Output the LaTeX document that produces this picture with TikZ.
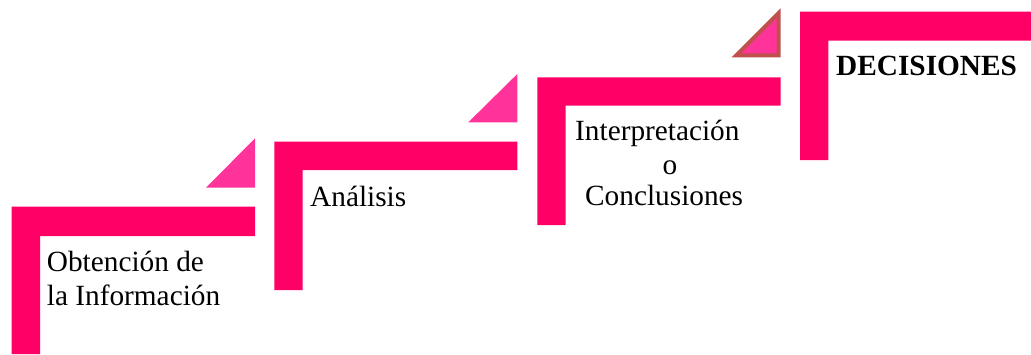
\documentclass[tikz,border=0pt]{standalone}
\usepackage{fontspec}
\setmainfont{Liberation Serif}
\definecolor{barpink}{RGB}{255,0,102}
\definecolor{tripink}{RGB}{255,51,153}
\definecolor{triedge}{RGB}{192,80,77}
\begin{document}
\begin{tikzpicture}[x=1pt,y=-1pt,
  stair/.style={fill=barpink,draw=none},
  tri/.style={fill=tripink,draw=none},
  tribord/.style={fill=tripink,draw=triedge,line width=4pt,line join=miter},
  lbl/.style={inner sep=0pt,anchor=base west,font=\fontsize{29.3}{33}\selectfont}]
\useasboundingbox (0,0) rectangle (1031,354);
% step 1
\fill[stair] (11.7,354) -- (11.7,206.7) -- (255,206.7) -- (255,236) -- (40,236) -- (40,354) -- cycle;
\fill[tri] (206,187.7) -- (255,187.7) -- (255,138.3) -- cycle;
% step 2
\fill[stair] (274.3,290) -- (274.3,141.7) -- (517.3,141.7) -- (517.3,170) -- (302.7,170) -- (302.7,290) -- cycle;
\fill[tri] (468.3,122.3) -- (517.3,122.3) -- (517.3,74) -- cycle;
% step 3
\fill[stair] (537.3,225) -- (537.3,77.3) -- (780.7,77.3) -- (780.7,105.7) -- (565.7,105.7) -- (565.7,225) -- cycle;
\draw[tribord] (736.5,55.3) -- (778.7,55.3) -- (778.7,13.1) -- cycle;
% step 4
\fill[stair] (800,160) -- (800,11.7) -- (1031,11.7) -- (1031,40.7) -- (828.3,40.7) -- (828.3,160) -- cycle;
% labels
\node[lbl] (t1a) at (46.7,271.7) {Obtención de};
\node[lbl] (t1b) at (46.7,305) {la Información};
\node[lbl] (t2) at (310,206.7) {Análisis};
\node[lbl] (t3a) at (575,140) {Interpretación};
\node[lbl,anchor=base] (t3b) at (670,174) {o};
\node[lbl] (t3c) at (585,205) {Conclusiones};
\node[lbl] (t4) at (836,75) {\bfseries DECISIONES};
\end{tikzpicture}
\end{document}
